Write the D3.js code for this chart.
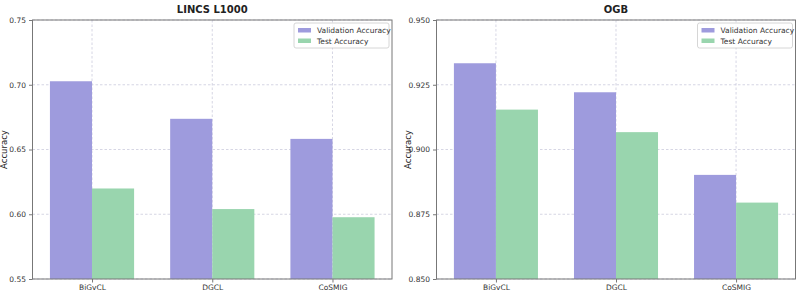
<!DOCTYPE html>
<html>
<head>
<meta charset="utf-8">
<script src="https://cdn.jsdelivr.net/npm/d3@7"></script>
<style>
  body { margin: 0; background: #fff; }
  svg text { font-family: "DejaVu Sans", sans-serif; }
</style>
</head>
<body>
<svg id="chart"></svg>
<script>
const width = 800;
const height = 294;

const categories = ['BiGvCL', 'DGCL', 'CoSMIG'];
const seriesNames = ['Validation Accuracy', 'Test Accuracy'];
const colors = ['#9e9bdd', '#99d5ae'];

const lincsVal = [0.7027, 0.6737, 0.6582];
const lincsTest = [0.6199, 0.6040, 0.5977];
const lincsTicks = [0.55, 0.60, 0.65, 0.70, 0.75];

const ogbVal = [0.9333, 0.9221, 0.8902];
const ogbTest = [0.9154, 0.9067, 0.8795];
const ogbTicks = [0.850, 0.875, 0.900, 0.925, 0.950];

const svg = d3.select('#chart')
    .attr('width', width)
    .attr('height', height);

const panels = [
  { title: 'LINCS L1000', left: 32.5, right: 392, val: lincsVal, test: lincsTest,
    ticks: lincsTicks, fmt: d3.format('.2f') },
  { title: 'OGB', left: 436.5, right: 795.5, val: ogbVal, test: ogbTest,
    ticks: ogbTicks, fmt: d3.format('.3f') }
];

const plotTop = 20, plotBottom = 279;
const barW = 0.35;

panels.forEach(p => {
  const g = svg.append('g');
  const x = d3.scaleLinear().domain([-0.495, 2.495]).range([p.left, p.right]);
  const y = d3.scaleLinear().domain([p.ticks[0], p.ticks[p.ticks.length - 1]]).range([plotBottom, plotTop]);

  // grid
  g.selectAll('.vgrid').data(categories).enter().append('line')
    .attr('x1', (d, i) => x(i)).attr('x2', (d, i) => x(i))
    .attr('y1', plotTop).attr('y2', plotBottom)
    .attr('stroke', '#c4c4d8').attr('stroke-width', 0.7)
    .attr('stroke-dasharray', '2.5,2');
  g.selectAll('.hgrid').data(p.ticks).enter().append('line')
    .attr('x1', p.left).attr('x2', p.right)
    .attr('y1', d => y(d)).attr('y2', d => y(d))
    .attr('stroke', '#c4c4d8').attr('stroke-width', 0.7)
    .attr('stroke-dasharray', '2.5,2');

  // bars
  const series = [p.val, p.test];
  series.forEach((vals, s) => {
    g.selectAll('.bar' + s).data(vals).enter().append('rect')
      .attr('x', (d, i) => x(i + (s === 0 ? -barW : 0)))
      .attr('width', x(barW) - x(0))
      .attr('y', d => y(d))
      .attr('height', d => plotBottom - y(d))
      .attr('fill', colors[s]);
  });

  // axes
  const yAxis = d3.axisLeft(y).tickValues(p.ticks).tickFormat(p.fmt).tickSize(3.5).tickPadding(3);
  const ya = g.append('g').attr('transform', `translate(${p.left},0)`).call(yAxis);
  const xAxis = d3.axisBottom(x).tickValues([0, 1, 2]).tickFormat(i => categories[i]).tickSize(3.5).tickPadding(2);
  const xa = g.append('g').attr('transform', `translate(0,${plotBottom})`).call(xAxis);
  [ya, xa].forEach(a => {
    a.select('.domain').remove();
    a.selectAll('line').attr('stroke', '#555').attr('stroke-width', 0.8);
    a.selectAll('text').attr('fill', '#333').style('font-size', '7.5px');
  });

  // frame
  g.append('rect')
    .attr('x', p.left).attr('y', plotTop)
    .attr('width', p.right - p.left).attr('height', plotBottom - plotTop)
    .attr('fill', 'none').attr('stroke', '#777').attr('stroke-width', 1);

  // title
  g.append('text')
    .attr('x', (p.left + p.right) / 2).attr('y', 13)
    .attr('text-anchor', 'middle')
    .style('font-size', '10px').style('font-weight', 'bold')
    .attr('fill', '#222')
    .text(p.title);

  // y label
  g.append('text')
    .attr('transform', `translate(${p.left - 26},${(plotTop + plotBottom) / 2}) rotate(-90)`)
    .attr('text-anchor', 'middle')
    .style('font-size', '8.5px')
    .attr('fill', '#222')
    .text('Accuracy');

  // legend
  const lg = g.append('g').attr('transform', `translate(${p.right - 98},${plotTop + 3})`);
  lg.append('rect').attr('width', 95).attr('height', 25).attr('rx', 2)
    .attr('fill', '#fff').attr('fill-opacity', 0.85)
    .attr('stroke', '#ccc').attr('stroke-width', 0.8);
  seriesNames.forEach((n, i) => {
    lg.append('rect').attr('x', 4).attr('y', 5 + i * 10.5).attr('width', 13).attr('height', 4.5).attr('fill', colors[i]);
    lg.append('text').attr('x', 23).attr('y', 10 + i * 10.5)
      .style('font-size', '7.5px').attr('fill', '#333').text(n);
  });
});
</script>
</body>
</html>
